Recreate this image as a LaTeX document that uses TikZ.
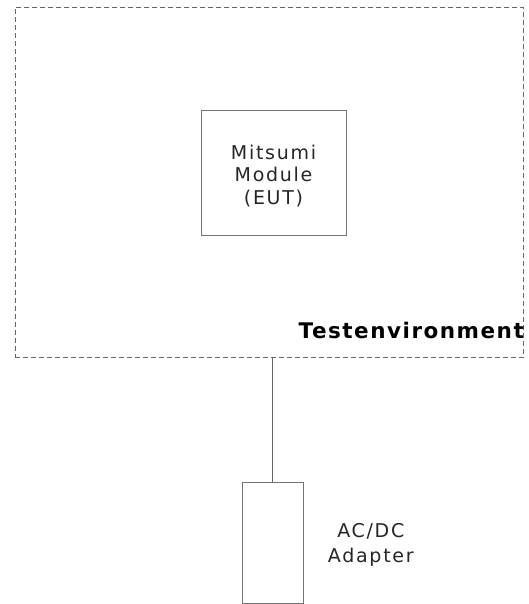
\documentclass[tikz,border=0pt]{standalone}
\usepackage{fontspec}
\setmainfont{DejaVu Sans}
\newfontfamily\labelfont[LetterSpace=9]{DejaVu Sans}
\newfontfamily\envfont[LetterSpace=7]{DejaVu Sans}
\usetikzlibrary{positioning}

\begin{document}
\begin{tikzpicture}[x=1pt, y=-1pt,
    envbox/.style={draw=black!60, dash pattern=on 5pt off 3pt, line width=0.8pt,
      minimum width=508pt, minimum height=350pt},
    unitbox/.style={draw=black!55, line width=0.9pt, inner sep=0pt},
    lbl/.style={font=\labelfont\fontsize{19}{22.5}\selectfont, align=center, text=black!85}]
    \useasboundingbox (0,0) rectangle (529,604);
    % Testumgebung mit Modul
    \node[envbox] (env) at (269,182.5) {};
    \node[unitbox, lbl, minimum width=145pt, minimum height=125pt] (eut) at (273.5,172.5)
      {\raisebox{-3.5pt}[\height][\depth]{\parbox{140pt}{\centering Mitsumi\\Module\\(EUT)}}};
    \node[anchor=base east, inner sep=0pt, font=\envfont\bfseries\fontsize{21.5}{24}\selectfont]
      (envlabel) at (524,338) {Testenvironment};
    % Netzteil
    \node[unitbox, minimum width=61pt, minimum height=121pt] (adapter) at (272.5,542.5) {};
    \node[lbl, font=\labelfont\fontsize{19}{25}\selectfont, right=21pt of adapter, yshift=-2pt]
      (adlabel) {AC/DC\\Adapter};
    \draw[black!60, line width=0.9pt] (adapter.north) -- (adapter.north |- env.south);
\end{tikzpicture}
\end{document}
